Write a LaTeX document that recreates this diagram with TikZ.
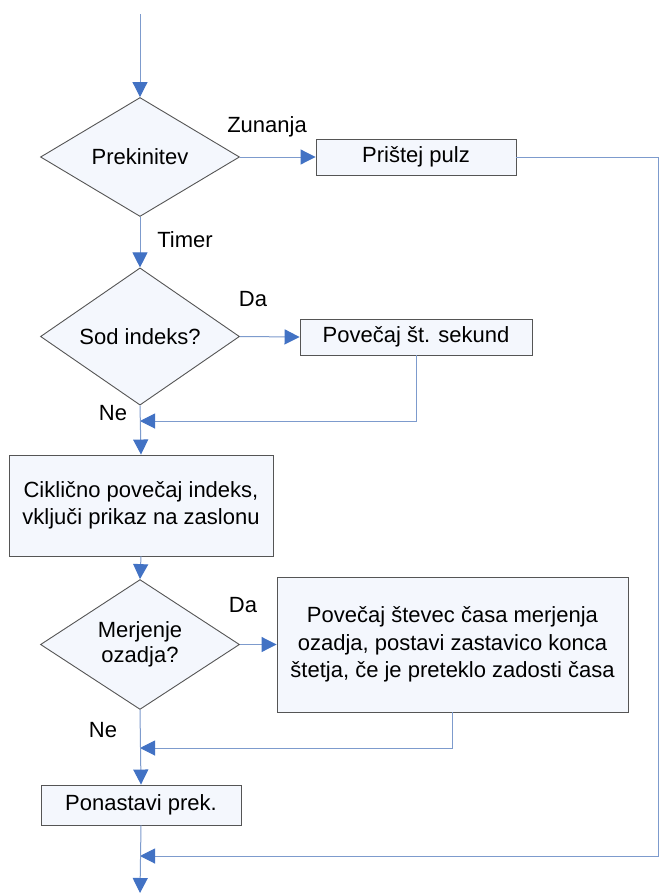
\documentclass[tikz,border=0pt]{standalone}
\usepackage{fontspec}
\setmainfont{Liberation Sans}
\usetikzlibrary{shapes.geometric,arrows.meta}
\definecolor{linkblue}{RGB}{125,155,205}
\definecolor{tipblue}{RGB}{66,114,196}
\definecolor{edgegray}{RGB}{85,85,85}
\definecolor{boxfill}{RGB}{244,247,253}

\begin{document}
\begin{tikzpicture}[x=1pt,y=-1pt,
  every node/.style={font=\fontsize{22}{27.5}\selectfont},
  decision/.style={diamond, draw=edgegray, fill=boxfill, line width=0.9pt,
    minimum width=199pt, minimum height=119pt, inner sep=0pt, align=center},
  process/.style={rectangle, draw=edgegray, fill=boxfill, line width=0.9pt,
    inner sep=0pt, align=center},
  flow/.style={draw=linkblue, line width=1pt,
    -{Triangle[length=15pt,width=15pt,color=tipblue]}},
  lbl/.style={inner sep=0pt}
]
% page area
\fill[white] (0,0) rectangle (659,894);
\useasboundingbox (0,0) rectangle (659,894);

% flow elements
\node[decision] (d1) at (140,157) {Prekinitev};
\node[process, minimum width=200pt, minimum height=36pt] (b1) at (416,157) {Prištej pulz};
\node[decision] (d2) at (140,336.5) {Sod indeks?};
\node[process, minimum width=232pt, minimum height=36pt] (b2) at (416,337) {Povečaj št. sekund};
\node[process, minimum width=264pt, minimum height=101pt] (b3) at (141,505.5)
  {Ciklično povečaj indeks,\\vključi prikaz na zaslonu};
\node[decision, font=\fontsize{22}{25}\selectfont] (d3) at (140,644.5) {Merjenje\\ozadja?};
\node[process, minimum width=351pt, minimum height=135pt] (b4) at (452.5,644.5)
  {Povečaj števec časa merjenja\\ozadja, postavi zastavico konca\\štetja, če je preteklo zadosti časa};
\node[process, minimum width=200pt, minimum height=40pt] (b5) at (141,805) {Ponastavi prek.};

% branch labels
\node[lbl] (lz) at (267,127) {Zunanja};
\node[lbl] (lt) at (185,240) {Timer};
\node[lbl] (ld1) at (253,299) {Da};
\node[lbl] (ln1) at (113,413) {Ne};
\node[lbl] (ld2) at (243,605) {Da};
\node[lbl] (ln2) at (103,730) {Ne};

% junction points
\coordinate (start) at (140,14);
\coordinate (j1) at (140,421);
\coordinate (j2) at (140,748);
\coordinate (j3) at (140,856);
\coordinate (finish) at (140,893);
\coordinate (r1) at (658,157);
\coordinate (r2) at (658,856);

% connectors
\draw[flow] (start) -- (d1.north);
\draw[flow] (d1.east) -- (b1.west);
\draw[flow] (b1.east) -- (r1) -- (r2) -- (j3);
\draw[flow] (d1.south) -- (d2.north);
\draw[flow] (d2.east) -- (b2.west);
\draw[flow] (b2.south) |- (j1);
\draw[flow] (d2.south) -- (b3.north);
\draw[flow] (b3.south) -- (d3.north);
\draw[flow] (d3.east) -- (b4.west);
\draw[flow] (b4.south) |- (j2);
\draw[flow] (d3.south) -- (b5.north);
\draw[flow] (b5.south) -- (finish);
\end{tikzpicture}
\end{document}
